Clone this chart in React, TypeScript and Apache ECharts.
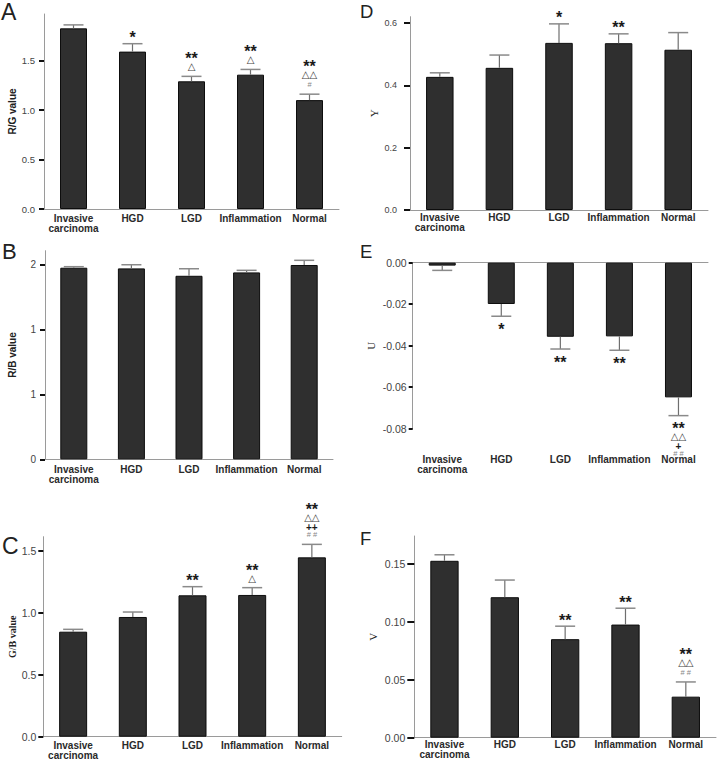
import React, { useEffect, useRef } from "react";
import * as echarts from "echarts";

const categories = ["Invasive\ncarcinoma", "HGD", "LGD", "Inflammation", "Normal"];

// Panel A: R/G value
const rgValues = [1.825, 1.59, 1.29, 1.357, 1.1];
const rgSem = [0.035, 0.08, 0.05, 0.053, 0.06];
const rgMarks = ["", "*", "**|△", "**|△", "**|△△|#"];
const rgTicks = [0, 0.5, 1.0, 1.5];

// Panel B: R/B value
const rbValues = [1.474, 1.469, 1.412, 1.438, 1.495];
const rbSem = [0.008, 0.028, 0.054, 0.016, 0.036];
const rbMarks = ["", "", "", "", ""];
const rbTicks = [0, 0.5, 1.0, 1.5];

// Panel C: G/B value
const gbValues = [0.849, 0.968, 1.143, 1.146, 1.45];
const gbSem = [0.019, 0.04, 0.07, 0.059, 0.105];
const gbMarks = ["", "", "**", "**|△", "**|△△|++|# #"];
const gbTicks = [0, 0.5, 1.0, 1.5];

// Panel D: Y
const yValues = [0.427, 0.456, 0.536, 0.535, 0.514];
const ySem = [0.013, 0.041, 0.061, 0.03, 0.055];
const yMarks = ["", "", "*", "**", ""];
const yTicks = [0, 0.2, 0.4, 0.6];

// Panel E: U
const uValues = [-0.0014, -0.0199, -0.0357, -0.0355, -0.0649];
const uSem = [0.0023, 0.0059, 0.0059, 0.0067, 0.0088];
const uMarks = ["", "*", "**", "**", "**|△△|+|# #"];
const uTicks = [-0.08, -0.06, -0.04, -0.02, 0];

// Panel F: V
const vValues = [0.1526, 0.1212, 0.085, 0.0976, 0.0354];
const vSem = [0.0052, 0.0148, 0.0112, 0.0141, 0.0127];
const vMarks = ["", "", "**", "**", "**|△△|# #"];
const vTicks = [0, 0.05, 0.1, 0.15];

const SANS = "'Liberation Sans', Arial, Helvetica, sans-serif";
const SERIF = "'Liberation Serif', 'Times New Roman', serif";

type Panel = {
  letter: string;
  values: number[];
  sems: number[];
  marks: string[];
  ticks: number[];
  name: string;
  nameFamily: string;
  nameWeight: string;
  decimals: number;
  left: number;
  top: number;
  right: number;
  bottom: number;
  min: number;
  max: number;
  barWidth: number;
  labelMargin: number;
  tickLabelMargin: number;
  tickLen: number;
  tickFont: number;
  nameGap: number;
  letterX: number;
  letterY: number;
  letterSize: number;
};

const panels: Panel[] = [
  {
    letter: "A", values: rgValues, sems: rgSem, marks: rgMarks, ticks: rgTicks,
    name: "R/G value", nameFamily: SANS, nameWeight: "bold", decimals: 1,
    left: 44, top: 14, right: 339, bottom: 209, min: 0, max: 1.97,
    barWidth: 27, labelMargin: 4, tickLabelMargin: 9, tickLen: 5, tickFont: 9.5, nameGap: 27,
    letterX: 1, letterY: 0, letterSize: 23,
  },
  {
    letter: "B", values: rbValues, sems: rbSem, marks: rbMarks, ticks: rbTicks,
    name: "R/B value", nameFamily: SANS, nameWeight: "bold", decimals: 0,
    left: 45, top: 250.7, right: 333, bottom: 459.3, min: 0, max: 1.605,
    barWidth: 27, labelMargin: 5, tickLabelMargin: 9, tickLen: 5, tickFont: 10, nameGap: 28,
    letterX: 2, letterY: 240, letterSize: 22,
  },
  {
    letter: "C", values: gbValues, sems: gbSem, marks: gbMarks, ticks: gbTicks,
    name: "G/B value", nameFamily: SERIF, nameWeight: "bold", decimals: 1,
    left: 43.3, top: 536.7, right: 341.7, bottom: 736.7, min: 0, max: 1.617,
    barWidth: 28, labelMargin: 4, tickLabelMargin: 7, tickLen: 5, tickFont: 10.5, nameGap: 26,
    letterX: 2, letterY: 534, letterSize: 23,
  },
  {
    letter: "D", values: yValues, sems: ySem, marks: yMarks, ticks: yTicks,
    name: "Y", nameFamily: SERIF, nameWeight: "normal", decimals: 1,
    left: 410, top: 16.7, right: 708, bottom: 210, min: 0, max: 0.62,
    barWidth: 27.5, labelMargin: 2, tickLabelMargin: 13, tickLen: 6, tickFont: 9, nameGap: 31,
    letterX: 360, letterY: 2, letterSize: 18.5,
  },
  {
    letter: "E", values: uValues, sems: uSem, marks: uMarks, ticks: uTicks,
    name: "U", nameFamily: SERIF, nameWeight: "normal", decimals: 2,
    left: 412.7, top: 262.7, right: 708, bottom: 428.7, min: -0.08, max: 0,
    barWidth: 27, labelMargin: 26, tickLabelMargin: 6, tickLen: 4, tickFont: 10.5, nameGap: 36,
    letterX: 360, letterY: 242, letterSize: 18.5,
  },
  {
    letter: "F", values: vValues, sems: vSem, marks: vMarks, ticks: vTicks,
    name: "V", nameFamily: SERIF, nameWeight: "normal", decimals: 2,
    left: 414.3, top: 536, right: 716, bottom: 737.7, min: 0, max: 0.174,
    barWidth: 28.3, labelMargin: 2, tickLabelMargin: 9, tickLen: 7, tickFont: 10.5, nameGap: 36,
    letterX: 360, letterY: 529, letterSize: 18.5,
  },
];

function markStyle(t: string) {
  if (t.indexOf("*") >= 0) return { h: 12, fontSize: 16, fontWeight: "bold", fill: "#1a1a1a", dy: 3.5, family: SANS };
  if (t.indexOf("△") >= 0) return { h: 11, fontSize: 10, fontWeight: "normal", fill: "#444", dy: 0, family: "'DejaVu Sans', sans-serif" };
  if (t.indexOf("+") >= 0) return { h: 7, fontSize: 10, fontWeight: "bold", fill: "#1a1a1a", dy: 0.5, family: SANS };
  return { h: 9, fontSize: 7.5, fontWeight: "normal", fill: "#888", dy: 0, family: SANS };
}

function errorSeries(p: Panel, xAxisIndex: number, yAxisIndex: number) {
  return {
    type: "custom",
    xAxisIndex,
    yAxisIndex,
    clip: false,
    silent: true,
    z: 4,
    data: p.values.map((v, i) => [i, v, p.sems[i]]),
    renderItem: (params: any, api: any) => {
      const i = api.value(0);
      const v = api.value(1);
      const s = api.value(2);
      const dir = v < 0 ? -1 : 1;
      const base = api.coord([i, v]);
      const end = api.coord([i, v + dir * s]);
      const cap = 10;
      const children: any[] = [
        {
          type: "line",
          shape: { x1: base[0], y1: base[1], x2: end[0], y2: end[1] },
          style: { stroke: "#6f6f6f", lineWidth: 1.2 },
        },
        {
          type: "line",
          shape: { x1: end[0] - cap, y1: end[1], x2: end[0] + cap, y2: end[1] },
          style: { stroke: "#8a8a8a", lineWidth: 1.5 },
        },
      ];
      const raw = p.marks[i];
      const lines = raw ? raw.split("|") : [];
      const ordered = dir > 0 ? lines.slice().reverse() : lines;
      let off = 0;
      let prevH = 0;
      ordered.forEach((t, k) => {
        const st = markStyle(t);
        off = k === 0 ? 9.5 : off + (prevH + st.h) / 2;
        prevH = st.h;
        const y = end[1] - dir * off + st.dy;
        children.push({
          type: "text",
          style: {
            text: t,
            x: end[0],
            y,
            fill: st.fill,
            fontSize: st.fontSize,
            fontWeight: st.fontWeight,
            fontFamily: st.family,
            align: "center",
            verticalAlign: "middle",
            textAlign: "center",
            textVerticalAlign: "middle",
          },
        });
      });
      return { type: "group", children };
    },
  };
}

function buildOption() {
  const grid: any[] = [];
  const xAxis: any[] = [];
  const yAxis: any[] = [];
  const series: any[] = [];
  const graphic: any[] = [];
  const axisGray = "#9a9a9a";

  panels.forEach((p, idx) => {
    grid.push({
      left: p.left,
      top: p.top,
      width: p.right - p.left,
      height: p.bottom - p.top,
      containLabel: false,
    });
    const negative = p.max <= 0;
    const xIdx = xAxis.length;
    xAxis.push({
      type: "category",
      gridIndex: idx,
      data: categories,
      position: "bottom",
      axisLine: { show: !negative, onZero: false, lineStyle: { color: axisGray, width: 1 } },
      axisTick: { show: false },
      splitLine: { show: false },
      axisLabel: {
        interval: 0,
        margin: p.labelMargin,
        fontSize: 10,
        fontWeight: "bold",
        color: "#2a2a2a",
        fontFamily: SANS,
        lineHeight: 10,
      },
    });
    if (negative) {
      xAxis.push({
        type: "category",
        gridIndex: idx,
        data: categories,
        position: "top",
        axisLine: { show: true, onZero: false, lineStyle: { color: axisGray, width: 1 } },
        axisTick: { show: false },
        axisLabel: { show: false },
        splitLine: { show: false },
      });
    }
    yAxis.push({
      type: "value",
      gridIndex: idx,
      min: p.min,
      max: p.max,
      name: p.name,
      nameLocation: "middle",
      nameGap: p.nameGap,
      nameTextStyle: {
        fontFamily: p.nameFamily,
        fontWeight: p.nameWeight,
        fontSize: p.nameWeight === "bold" ? 10 : 11,
        color: "#222",
      },
      axisLine: { show: true, onZero: false, lineStyle: { color: axisGray, width: 1 } },
      axisTick: {
        show: true,
        length: p.tickLen,
        customValues: p.ticks,
        lineStyle: { color: "#111", width: 2 },
      },
      axisLabel: {
        customValues: p.ticks,
        formatter: (val: number) => Number(val).toFixed(p.decimals),
        fontSize: p.tickFont,
        color: "#444",
        fontFamily: SANS,
        margin: p.tickLabelMargin,
      },
      splitLine: { show: false },
    });
    series.push({
      type: "bar",
      xAxisIndex: xIdx,
      yAxisIndex: idx,
      data: p.values,
      barWidth: p.barWidth,
      silent: true,
      z: 3,
      itemStyle: { color: "#2f2f2f", borderColor: "#0d0d0d", borderWidth: 1 },
    });
    series.push(errorSeries(p, xIdx, idx));
    graphic.push({
      type: "text",
      left: p.letterX,
      top: p.letterY,
      silent: true,
      style: {
        text: p.letter,
        fontSize: p.letterSize,
        fontFamily: SANS,
        fill: "#222",
      },
    });
  });

  return {
    animation: false,
    backgroundColor: "#ffffff",
    grid,
    xAxis,
    yAxis,
    series,
    graphic,
  };
}

export default function App() {
  const ref = useRef<HTMLDivElement>(null);
  useEffect(() => {
    document.body.style.margin = "0";
    if (!ref.current) return;
    const chart = echarts.init(ref.current, undefined, { renderer: "svg" });
    chart.setOption(buildOption() as any);
    return () => chart.dispose();
  }, []);
  return (
    <div
      ref={ref}
      style={{ position: "absolute", left: 0, top: 0, width: 720, height: 762, background: "#fff" }}
    />
  );
}
